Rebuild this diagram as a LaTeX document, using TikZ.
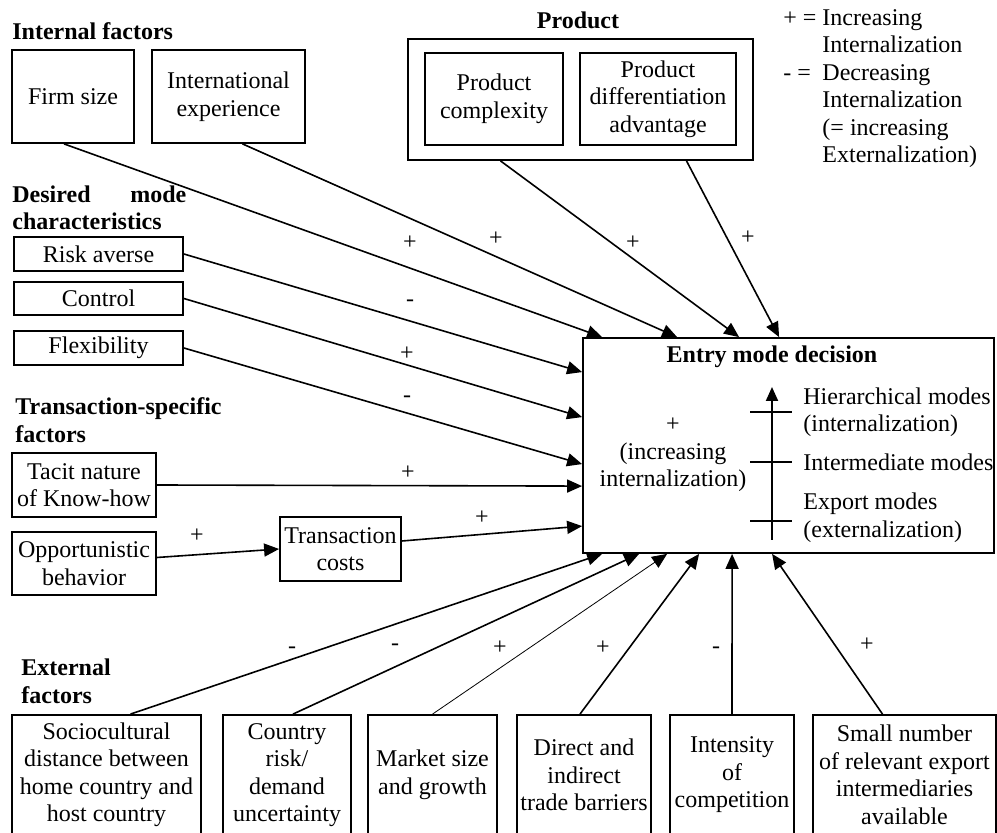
\documentclass[tikz,border=0pt]{standalone}
\usepackage{fontspec}
\setmainfont{Liberation Serif}
\usetikzlibrary{arrows.meta}
\newcommand{\bodyfont}{\fontsize{12}{13.75}\selectfont}
\tikzset{
    fac/.style={draw, line width=0.9pt, align=center, inner sep=1pt},
    hdr/.style={font=\bodyfont\bfseries, align=left, inner sep=0pt, anchor=west},
    sgn/.style={inner sep=0pt},
    arr/.style={line width=0.8pt, -{Triangle[length=7.5pt,width=6.5pt]}}
}

\begin{document}
\begin{tikzpicture}[x=0.5pt,y=-0.5pt,font=\bodyfont]
\useasboundingbox (0,0) rectangle (997,833);
\clip (0,0) rectangle (997,833);
% headings
\node[hdr] (hInt) at (12,31) {Internal factors};
\node[hdr, anchor=center] (hProd) at (578,20) {Product};
\node[hdr, text width=87pt] (hDes) at (12,208) {Desired\hfill mode\\characteristics};
\node[hdr] (hTra) at (15,420) {Transaction-specific\\factors};
\node[hdr] (hExt) at (21,681.5) {External\\factors};
% legend
\node[anchor=west, inner sep=0pt] (legend) at (783,88.5) {\begin{tabular}{@{}l@{\ }l@{}}
+ = & Increasing\\ & Internalization\\- = & Decreasing\\ & Internalization\\ & (= increasing\\ & Externalization)
\end{tabular}};
% internal factors
\node[fac, minimum width=61pt, minimum height=46.5pt] (firm) at (73,96.5) {Firm size};
\node[fac, minimum width=76.5pt, minimum height=46.5pt] (intl) at (228.5,96.5) {International\\experience};
% product
\node[fac, minimum width=172.5pt, minimum height=60.5pt] (prod) at (580.5,99.5) {};
\node[fac, minimum width=69pt, minimum height=46pt] (cplx) at (494,99) {Product\\complexity};
\node[fac, minimum width=78pt, minimum height=46pt] (diff) at (658,99) {Product\\differentiation\\advantage};
% desired mode characteristics
\node[fac, minimum width=84.5pt, minimum height=17pt] (risk) at (98.5,254) {Risk averse};
\node[fac, minimum width=84.5pt, minimum height=16.5pt] (ctrl) at (98.5,298.5) {Control};
\node[fac, minimum width=84.5pt, minimum height=17pt] (flex) at (98.5,348) {Flexibility};
% transaction-specific factors
\node[fac, minimum width=72pt, minimum height=32pt] (tacit) at (84,485) {Tacit nature\\of Know-how};
\node[fac, minimum width=72pt, minimum height=31.5pt] (opp) at (84,563.5) {Opportunistic\\behavior};
\node[fac, minimum width=60.5pt, minimum height=32pt] (tc) at (340.5,549) {Transaction\\costs};
% entry mode decision
\node[fac, minimum width=205.5pt, minimum height=107.5pt] (entry) at (788.5,445.5) {};
\node[font=\bodyfont\bfseries, inner sep=0pt] (eTitle) at (772,357) {Entry mode decision};
\node[align=center, inner sep=0pt] (eInc) at (673,455) {+\\(increasing\\internalization)};
\coordinate (sBot) at (772,540);
\coordinate (sTop) at (772,387);
\draw[line width=1pt, -{Triangle[length=7pt,width=6pt]}] (sBot) -- (sTop);
\foreach \y in {412,462,521}
    \draw[line width=1pt] (750,\y) -- (792,\y);
\node[anchor=west, align=left, inner sep=0pt] (eHier) at (803,412) {Hierarchical modes\\(internalization)};
\node[anchor=west, inner sep=0pt] (eMid) at (803,462) {Intermediate modes};
\node[anchor=west, align=left, inner sep=0pt] (eExp) at (803,517.5) {Export modes\\(externalization)};
% external factors
\node[fac, minimum width=94.5pt, minimum height=60pt] (socio) at (106.5,775) {Sociocultural\\distance between\\home country and\\host country};
\node[fac, minimum width=64pt, minimum height=60pt] (ctry) at (287,775) {Country\\risk/\\demand\\uncertainty};
\node[fac, minimum width=64.5pt, minimum height=60pt] (mkt) at (432.5,775) {Market size\\and growth};
\node[fac, minimum width=67pt, minimum height=60pt] (dir) at (584,775) {Direct and\\indirect\\trade barriers};
\node[fac, minimum width=62pt, minimum height=60pt] (inten) at (732,775) {Intensity\\of\\competition};
\node[fac, minimum width=91.5pt, minimum height=60pt] (small) at (904.5,775) {Small number\\of relevant export\\intermediaries\\available};
% arrows
\draw[arr] ([xshift=-4.5pt]firm.south) -- ([xshift=10pt]entry.north west);
\draw[arr] ([xshift=7pt]intl.south) -- ([xshift=47.5pt]entry.north west);
\draw[arr] ([xshift=-40pt]prod.south) -- ([xshift=78.5pt]entry.north west);
\draw[arr] ([xshift=53pt]prod.south) -- ([xshift=98.5pt]entry.north west);
\draw[arr] (risk.east) -- ([yshift=-17.5pt]entry.north west);
\draw[arr] (ctrl.east) -- ([yshift=-40pt]entry.north west);
\draw[arr] (flex.east) -- ([yshift=-63.5pt]entry.north west);
\draw[arr] (tacit.east) -- ([yshift=-74.5pt]entry.north west);
\draw[arr] ([yshift=3pt]opp.east) -- (tc.west);
\draw[arr] ([yshift=4pt]tc.east) -- ([yshift=-94.5pt]entry.north west);
\draw[arr] ([xshift=12pt]socio.north) -- ([xshift=10pt]entry.south west);
\draw[arr] ([xshift=3pt]ctry.north) -- ([xshift=28.5pt]entry.south west);
\draw[arr, line width=0.4pt] (mkt.north) -- ([xshift=42.5pt]entry.south west);
\draw[arr] ([xshift=-2pt]dir.north) -- ([xshift=58.5pt]entry.south west);
\draw[arr] (inten.north) -- ([xshift=75pt]entry.south west);
\draw[arr] ([xshift=-11pt]small.north) -- ([xshift=95pt]entry.south west);
% signs
\node[sgn] (sFirm) at (410,243) {+};
\node[sgn] (sIntl) at (496,239) {+};
\node[sgn] (sCplx) at (633,243) {+};
\node[sgn] (sDiff) at (748,238) {+};
\node[sgn] (sRisk) at (410,303) {-};
\node[sgn] (sCtrl) at (407,354) {+};
\node[sgn] (sFlex) at (407,399) {-};
\node[sgn] (sTacit) at (408,473) {+};
\node[sgn] (sTc) at (482,518) {+};
\node[sgn] (sOpp) at (197,536) {+};
\node[sgn] (sSocio) at (292,650) {-};
\node[sgn] (sCtry) at (395,647) {-};
\node[sgn] (sMkt) at (500,648) {+};
\node[sgn] (sDir) at (603,648) {+};
\node[sgn] (sInten) at (716,650) {-};
\node[sgn] (sSmall) at (867,645) {+};
\end{tikzpicture}
\end{document}
